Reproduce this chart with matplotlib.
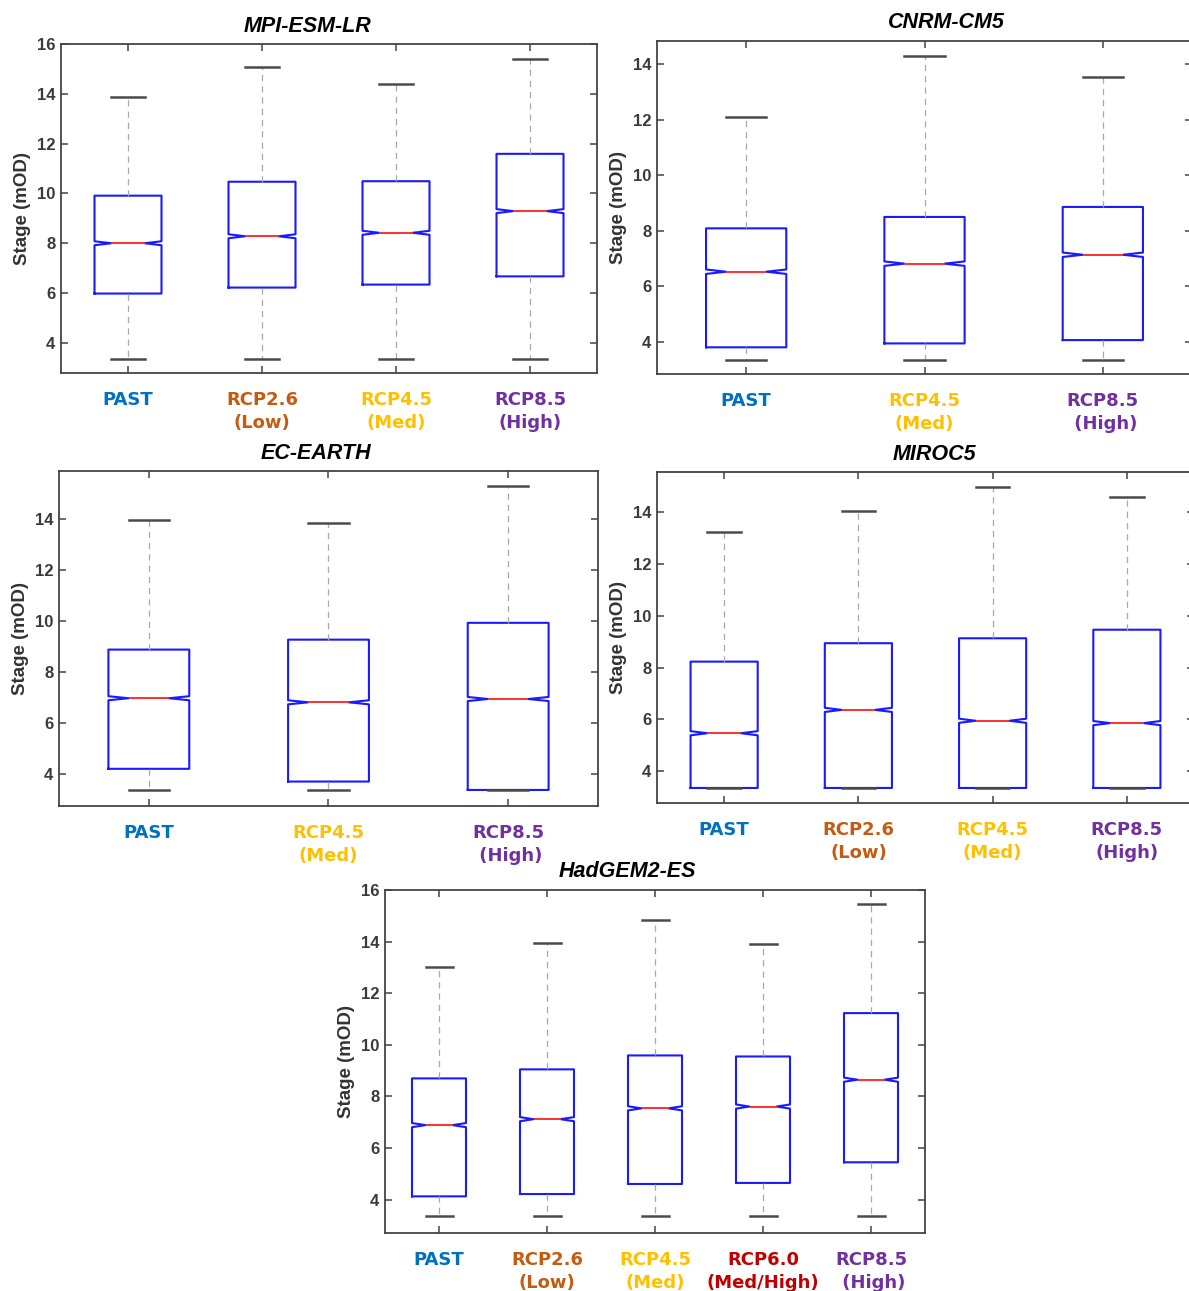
import matplotlib
matplotlib.use("Agg")
import matplotlib.pyplot as plt

plt.rcParams['font.family'] = ['Liberation Sans', 'DejaVu Sans']

# scenario colours and the two-line tick labels
scenario_colors = {
    'PAST': '#0070C0',
    'RCP2.6': '#C55A11',
    'RCP4.5': '#FFC000',
    'RCP6.0': '#C00000',
    'RCP8.5': '#7030A0',
}
scenario_labels = {
    'PAST': 'PAST',
    'RCP2.6': 'RCP2.6\n(Low)',
    'RCP4.5': 'RCP4.5\n(Med)',
    'RCP6.0': 'RCP6.0\n(Med/High)',
    'RCP8.5': 'RCP8.5\n(High)',
}

# MPI-ESM-LR
mpi_scen = ['PAST', 'RCP2.6', 'RCP4.5', 'RCP8.5']
mpi_whislo = [3.37, 3.37, 3.37, 3.37]
mpi_q1 = [5.98, 6.22, 6.34, 6.67]
mpi_med = [8.00, 8.28, 8.42, 9.29]
mpi_q3 = [9.91, 10.47, 10.49, 11.59]
mpi_whishi = [13.86, 15.08, 14.38, 15.40]

# CNRM-CM5
cnrm_scen = ['PAST', 'RCP4.5', 'RCP8.5']
cnrm_whislo = [3.36, 3.36, 3.36]
cnrm_q1 = [3.81, 3.95, 4.07]
cnrm_med = [6.53, 6.82, 7.14]
cnrm_q3 = [8.09, 8.50, 8.86]
cnrm_whishi = [12.10, 14.28, 13.55]

# EC-EARTH
ec_scen = ['PAST', 'RCP4.5', 'RCP8.5']
ec_whislo = [3.38, 3.38, 3.38]
ec_q1 = [4.21, 3.71, 3.38]
ec_med = [6.98, 6.82, 6.95]
ec_q3 = [8.89, 9.28, 9.94]
ec_whishi = [13.97, 13.84, 15.31]

# MIROC5
miroc_scen = ['PAST', 'RCP2.6', 'RCP4.5', 'RCP8.5']
miroc_whislo = [3.36, 3.36, 3.36, 3.36]
miroc_q1 = [3.36, 3.36, 3.36, 3.36]
miroc_med = [5.47, 6.37, 5.95, 5.86]
miroc_q3 = [8.23, 8.94, 9.13, 9.46]
miroc_whishi = [13.21, 14.05, 14.96, 14.58]

# HadGEM2-ES
had_scen = ['PAST', 'RCP2.6', 'RCP4.5', 'RCP6.0', 'RCP8.5']
had_whislo = [3.35, 3.35, 3.35, 3.35, 3.35]
had_q1 = [4.13, 4.22, 4.61, 4.65, 5.45]
had_med = [6.89, 7.12, 7.54, 7.61, 8.65]
had_q3 = [8.70, 9.05, 9.59, 9.55, 11.23]
had_whishi = [13.02, 13.94, 14.84, 13.91, 15.46]

NOTCH = 0.08  # half height of the median notch (mOD)

W, H = 1189, 1291
fig = plt.figure(figsize=(W / 100, H / 100), dpi=100)


def add_panel(left, top, right, bottom):
    return fig.add_axes([left / W, 1 - bottom / H, (right - left) / W, (bottom - top) / H])


def draw_panel(ax, title, title_x, scen, whislo, q1, med, q3, whishi,
               ylim, yticks, width, shift_high=False):
    stats = []
    for i in range(len(scen)):
        stats.append(dict(whislo=whislo[i], q1=q1[i], med=med[i], q3=q3[i],
                          whishi=whishi[i], cilo=med[i] - NOTCH,
                          cihi=med[i] + NOTCH, fliers=[]))
    pos = list(range(1, len(scen) + 1))
    ax.bxp(stats, positions=pos, widths=width, capwidths=width / 2,
           shownotches=True, showfliers=False,
           boxprops=dict(color='#1a1aff', lw=1.5),
           medianprops=dict(color='#ff3030', lw=1.4),
           whiskerprops=dict(color='#a8a8a8', lw=0.9, ls=(0, (5, 4))),
           capprops=dict(color='#4a4a4a', lw=1.8))
    ax.set_xlim(0.5, len(scen) + 0.5)
    ax.set_ylim(*ylim)
    ax.set_yticks(yticks)
    ax.set_yticklabels([str(t) for t in yticks], fontweight='bold',
                       color='#3a3a3a', fontsize=12)
    ax.set_xticks(pos)
    labels = []
    for s in scen:
        lab = scenario_labels[s]
        if shift_high and s == 'RCP8.5':
            lab = lab.replace('\n', '\n ')
        labels.append(lab)
    ax.set_xticklabels(labels, family='DejaVu Sans', fontweight='bold',
                       fontsize=13, linespacing=1.35)
    for lab, s in zip(ax.get_xticklabels(), scen):
        lab.set_color(scenario_colors[s])
    ax.tick_params(direction='in', length=5, width=1.1, color='#444444',
                   top=True, right=True)
    ax.tick_params(axis='x', pad=13)
    ax.tick_params(axis='y', pad=4)
    for sp in ax.spines.values():
        sp.set_color('#444444')
        sp.set_linewidth(1.3)
    ax.set_ylabel('Stage (mOD)', fontsize=13.5, fontweight='bold',
                  color='#333333', labelpad=4)
    ax.set_title(title, x=title_x, fontsize=15.5, fontweight='bold',
                 fontstyle='italic', pad=9)


ax1 = add_panel(61, 44, 597, 373)
draw_panel(ax1, 'MPI-ESM-LR', 0.46, mpi_scen, mpi_whislo, mpi_q1, mpi_med,
           mpi_q3, mpi_whishi, (2.79, 16), [4, 6, 8, 10, 12, 14, 16], 0.5)

ax2 = add_panel(657, 41, 1192, 374)
draw_panel(ax2, 'CNRM-CM5', 0.54, cnrm_scen, cnrm_whislo, cnrm_q1, cnrm_med,
           cnrm_q3, cnrm_whishi, (2.85, 14.83), [4, 6, 8, 10, 12, 14], 0.45,
           shift_high=True)

ax3 = add_panel(59, 471, 598, 806)
draw_panel(ax3, 'EC-EARTH', 0.477, ec_scen, ec_whislo, ec_q1, ec_med,
           ec_q3, ec_whishi, (2.75, 15.9), [4, 6, 8, 10, 12, 14], 0.45,
           shift_high=True)

ax4 = add_panel(657, 472, 1194, 803)
draw_panel(ax4, 'MIROC5', 0.516, miroc_scen, miroc_whislo, miroc_q1,
           miroc_med, miroc_q3, miroc_whishi, (2.78, 15.54),
           [4, 6, 8, 10, 12, 14], 0.5)

ax5 = add_panel(385, 890, 925, 1233)
draw_panel(ax5, 'HadGEM2-ES', 0.448, had_scen, had_whislo, had_q1, had_med,
           had_q3, had_whishi, (2.71, 16), [4, 6, 8, 10, 12, 14, 16], 0.5,
           shift_high=True)

fig.savefig('out.png', dpi=100, facecolor='white')
